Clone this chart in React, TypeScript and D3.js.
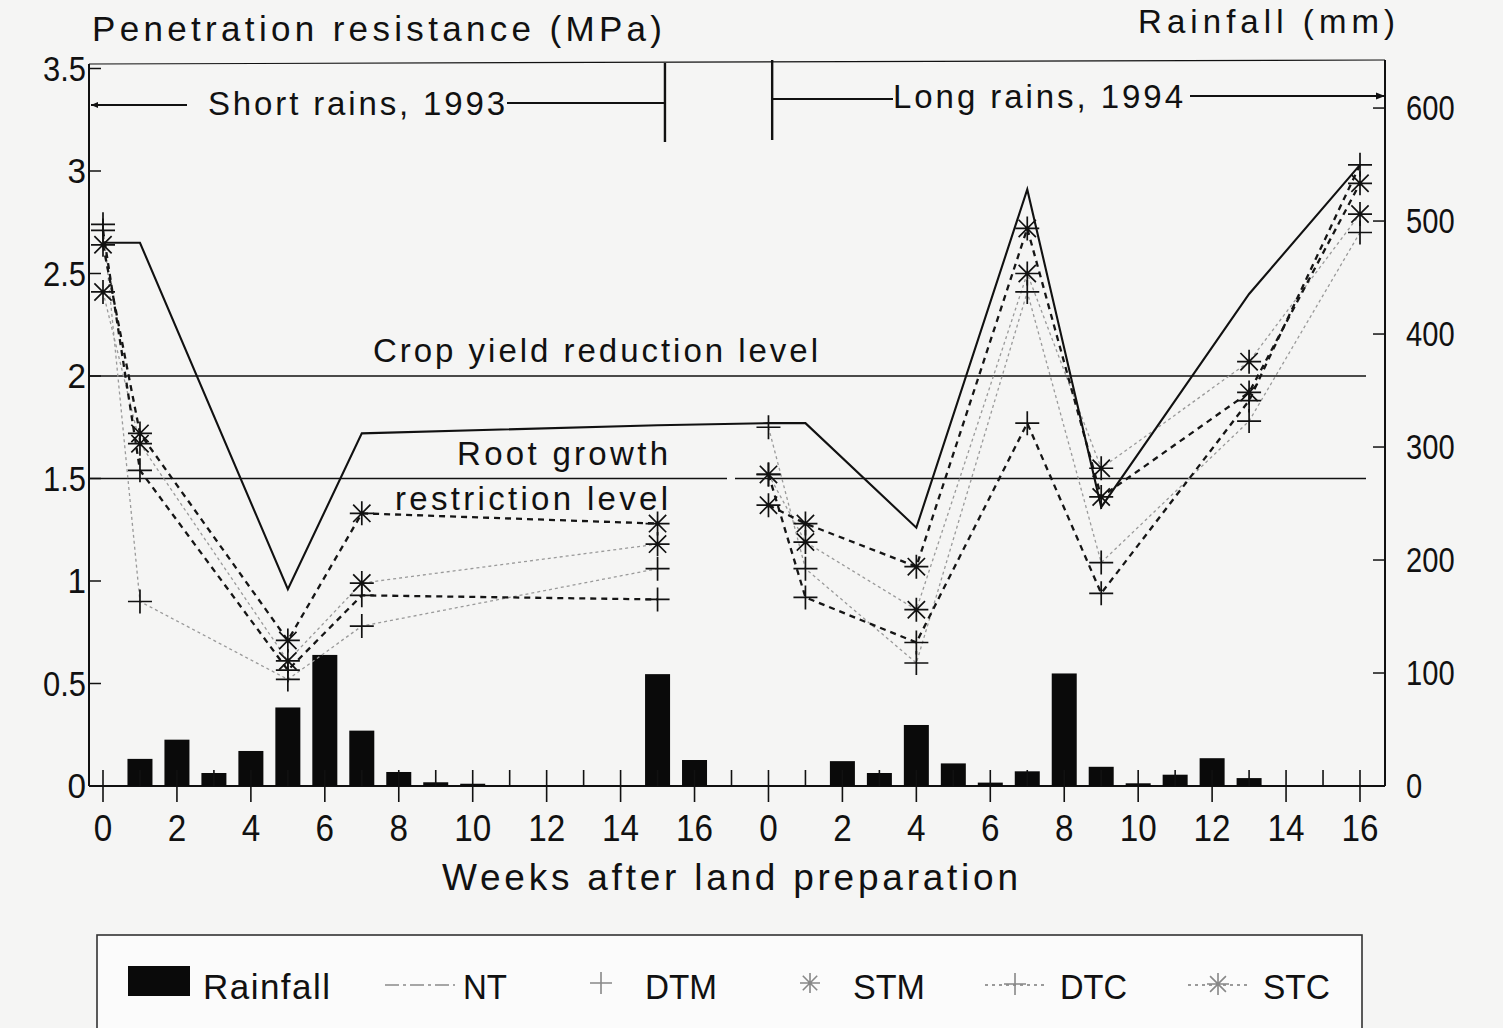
import React from 'react';
import * as d3 from 'd3';

const WIDTH = 1503;
const HEIGHT = 1028;

// Sampling weeks (weeks after land preparation) for each season
const shortWeeks = [0, 1, 5, 7, 15];
const longWeeks = [0, 1, 4, 7, 9, 13, 16];
// Axis position where the long-rains week numbering restarts at 0
const LONG_START = 18;
const LAST_SHORT_WEEK = 17;
const LAST_LONG_WEEK = 16;

// Penetration resistance (MPa), short rains 1993 / long rains 1994
const ntShort = [2.65, 2.65, 0.96, 1.72, 1.76];
const ntLong = [1.77, 1.77, 1.26, 2.91, 1.36, 2.4, 3.03];
const dtmShort = [2.74, 0.9, 0.52, 0.78, 1.06];
const dtmLong = [1.75, 1.06, 0.6, 2.41, 1.09, 1.78, 2.7];
const stmShort = [2.41, 1.67, 0.61, 0.99, 1.18];
const stmLong = [1.52, 1.19, 0.86, 2.5, 1.55, 2.07, 2.79];
const dtcShort = [2.71, 1.54, 0.565, 0.93, 0.91];
const dtcLong = [1.52, 0.92, 0.7, 1.77, 0.94, 1.88, 3.03];
const stcShort = [2.64, 1.72, 0.71, 1.33, 1.28];
const stcLong = [1.37, 1.28, 1.07, 2.72, 1.41, 1.92, 2.94];

// Weekly rainfall (mm): short rains weeks 0-17, long rains weeks 0-16
const rainShort = [0, 24, 41, 11.5, 31, 69.5, 116, 49, 12.4, 3.3, 2, 0, 0, 0, 0, 99, 23, 0];
const rainLong = [0, 0, 22, 11.5, 54, 20, 3, 13, 99.6, 17, 2.4, 10, 24.6, 7, 0, 0, 0];

// Reference levels (MPa)
const cropYieldLevel = 2;
const rootRestrictionLevel = 1.5;

// Axis ticks
const leftTicks = [0, 0.5, 1, 1.5, 2, 2.5, 3, 3.5];
const rightTicks = [0, 100, 200, 300, 400, 500, 600];
const weekLabels = [0, 2, 4, 6, 8, 10, 12, 14, 16];

const FONT = "'Liberation Sans', Arial, Helvetica, sans-serif";

const x = d3.scaleLinear().domain([0, 34]).range([103, 1360]);
const yL = d3.scaleLinear().domain([0, 3.5]).range([786, 68.5]);
const yR = d3.scaleLinear().domain([0, 635]).range([786, 68.5]);

const AXIS_LEFT = 89;
const AXIS_RIGHT = 1385;
const AXIS_BOTTOM = yL(0);
const FRAME_TOP = 64;

const plusPath = (s: number) => `M${-s},0H${s}M0,${-s}V${s}`;
const starPath = (s: number) => {
  const d = s * 0.72;
  return `M${-s},0H${s}M0,${-s}V${s}M${-d},${-d}L${d},${d}M${-d},${d}L${d},${-d}`;
};

type Treatment = {
  name: string;
  short: number[];
  long: number[];
  marker: 'plus' | 'star';
  heavy: boolean;
};

const treatments: Treatment[] = [
  { name: 'DTM', short: dtmShort, long: dtmLong, marker: 'plus', heavy: false },
  { name: 'STM', short: stmShort, long: stmLong, marker: 'star', heavy: false },
  { name: 'DTC', short: dtcShort, long: dtcLong, marker: 'plus', heavy: true },
  { name: 'STC', short: stcShort, long: stcLong, marker: 'star', heavy: true },
];

const lightStroke = { stroke: '#9a9a9a', strokeWidth: 1.3, strokeDasharray: '3,3' };
const heavyStroke = { stroke: '#151515', strokeWidth: 2.3, strokeDasharray: '6,5' };

const line = d3
  .line<[number, number]>()
  .x((d) => x(d[0]))
  .y((d) => yL(d[1]));

// width of a number label, narrow plotting digits
const numWidth = (s: string, digit = 18.5) =>
  s.split('').reduce((w, ch) => w + (ch === '.' ? 6 : digit), 0);

function Label(props: {
  x: number;
  y: number;
  text: string;
  size: number;
  width?: number;
  anchor?: 'start' | 'middle' | 'end';
  squeeze?: boolean;
}) {
  const { text, size, width, anchor = 'start', squeeze } = props;
  return (
    <text
      x={props.x}
      y={props.y}
      fontSize={size}
      fontFamily={FONT}
      fill="#111"
      textAnchor={anchor}
      textLength={width}
      lengthAdjust={width ? (squeeze ? 'spacingAndGlyphs' : 'spacing') : undefined}
    >
      {text}
    </text>
  );
}

export default function App() {
  const seasonPoints = (weeks: number[], vals: number[], offset: number) =>
    weeks.map((w, i) => [w + offset, vals[i]] as [number, number]);

  const ntPoints = [
    ...seasonPoints(shortWeeks, ntShort, 0),
    ...seasonPoints(longWeeks, ntLong, LONG_START),
  ];

  const rainBars = [
    ...rainShort.map((v, i) => ({ pos: i, v })),
    ...rainLong.map((v, i) => ({ pos: LONG_START + i, v })),
  ].filter((d) => d.v > 0);

  const tickPositions: number[] = [];
  for (let w = 0; w <= LAST_SHORT_WEEK; w++) tickPositions.push(w);
  for (let w = 0; w <= LAST_LONG_WEEK; w++) tickPositions.push(LONG_START + w);

  const barW = 25;

  return (
    <svg
      width={WIDTH}
      height={HEIGHT}
      viewBox={`0 0 ${WIDTH} ${HEIGHT}`}
      style={{ position: 'absolute', left: 0, top: 0, background: '#f5f5f4' }}
    >
      {/* titles */}
      <Label x={92} y={41} text="Penetration resistance (MPa)" size={35} width={570} />
      <Label x={1138} y={33} text="Rainfall (mm)" size={33} width={257} />

      {/* frame */}
      <g stroke="#111" strokeWidth={2} fill="none">
        <line x1={AXIS_LEFT} y1={FRAME_TOP} x2={AXIS_LEFT} y2={AXIS_BOTTOM} />
        <line x1={AXIS_RIGHT} y1={FRAME_TOP - 4} x2={AXIS_RIGHT} y2={AXIS_BOTTOM} />
        <line x1={AXIS_LEFT} y1={AXIS_BOTTOM} x2={AXIS_RIGHT} y2={AXIS_BOTTOM} />
        <line x1={AXIS_LEFT} y1={FRAME_TOP} x2={AXIS_RIGHT} y2={FRAME_TOP - 4} strokeWidth={1.2} />
      </g>

      {/* left axis ticks and labels */}
      {leftTicks.map((t) => (
        <g key={`l${t}`}>
          <line x1={AXIS_LEFT} x2={AXIS_LEFT + 12} y1={yL(t)} y2={yL(t)} stroke="#111" strokeWidth={1.5} />
          <Label
            x={86}
            y={yL(t) + 12}
            text={String(t)}
            size={35}
            anchor="end"
            width={numWidth(String(t))}
            squeeze
          />
        </g>
      ))}

      {/* right axis ticks and labels */}
      {rightTicks.map((t) => (
        <g key={`r${t}`}>
          <line x1={AXIS_RIGHT - 12} x2={AXIS_RIGHT} y1={yR(t)} y2={yR(t)} stroke="#111" strokeWidth={1.5} />
          <Label
            x={1406}
            y={yR(t) + 12}
            text={String(t)}
            size={35}
            width={numWidth(String(t), 16.2)}
            squeeze
          />
        </g>
      ))}

      {/* season annotations */}
      <g stroke="#111" strokeWidth={1.8} fill="#111">
        <line x1={x(15.2)} x2={x(15.2)} y1={FRAME_TOP - 1} y2={142} strokeWidth={2.4} />
        <line x1={x(18.1)} x2={x(18.1)} y1={FRAME_TOP - 4} y2={140} strokeWidth={2.4} />
        <line x1={AXIS_LEFT + 2} x2={187} y1={105} y2={105} />
        <path d={`M${AXIS_LEFT + 2},105l7,-3v6z`} stroke="none" />
        <line x1={507} x2={x(15.2)} y1={103} y2={103} />
        <line x1={x(18.1)} x2={893} y1={99} y2={99} />
        <line x1={1190} x2={AXIS_RIGHT} y1={96} y2={96} />
        <path d={`M${AXIS_RIGHT},96l-9,-3.5v7z`} stroke="none" />
      </g>
      <Label x={208} y={115} text="Short rains, 1993" size={33} width={297} />
      <Label x={893} y={108} text="Long rains, 1994" size={33} width={290} />

      {/* reference levels */}
      <g stroke="#111" strokeWidth={1.6}>
        <line x1={AXIS_LEFT} x2={1366} y1={yL(cropYieldLevel)} y2={yL(cropYieldLevel)} />
        <line x1={AXIS_LEFT} x2={727} y1={yL(rootRestrictionLevel)} y2={yL(rootRestrictionLevel)} />
        <line x1={735} x2={1366} y1={yL(rootRestrictionLevel)} y2={yL(rootRestrictionLevel)} />
      </g>
      <Label x={373} y={362} text="Crop yield reduction level" size={33} width={445} />
      <Label x={457} y={465} text="Root growth" size={33} width={211} />
      <Label x={395} y={510} text="restriction level" size={33} width={273} />

      {/* rainfall bars */}
      {rainBars.map((d) => (
        <rect
          key={`b${d.pos}`}
          x={x(d.pos) - barW / 2}
          y={yR(d.v)}
          width={barW}
          height={yR(0) - yR(d.v)}
          fill="#0a0a0a"
        />
      ))}

      {/* week ticks */}
      {tickPositions.map((p) => (
        <line
          key={`t${p}`}
          x1={x(p)}
          x2={x(p)}
          y1={AXIS_BOTTOM - 16}
          y2={p % 2 === 0 ? AXIS_BOTTOM + 16 : AXIS_BOTTOM}
          stroke="#111"
          strokeWidth={1.6}
        />
      ))}
      {[0, LONG_START].map((off) =>
        weekLabels.map((w) => (
          <Label
            key={`w${off}-${w}`}
            x={x(off + w)}
            y={841}
            text={String(w)}
            size={36}
            anchor="middle"
            width={numWidth(String(w))}
            squeeze
          />
        ))
      )}
      <Label x={442} y={890} text="Weeks after land preparation" size={37} width={576} />

      {/* treatment lines */}
      {treatments.map((t) =>
        [
          seasonPoints(shortWeeks, t.short, 0),
          seasonPoints(longWeeks, t.long, LONG_START),
        ].map((pts, k) => (
          <path
            key={`${t.name}${k}`}
            d={line(pts) || ''}
            fill="none"
            {...(t.heavy ? heavyStroke : lightStroke)}
          />
        ))
      )}
      <path d={line(ntPoints) || ''} fill="none" stroke="#111" strokeWidth={2.1} />

      {/* treatment markers */}
      {treatments.map((t) =>
        [
          ...seasonPoints(shortWeeks, t.short, 0),
          ...seasonPoints(longWeeks, t.long, LONG_START),
        ].map((p, i) => (
          <path
            key={`${t.name}m${i}`}
            transform={`translate(${x(p[0])},${yL(p[1])})`}
            d={t.marker === 'plus' ? plusPath(12) : starPath(12)}
            stroke="#111"
            strokeWidth={1.7}
            fill="none"
          />
        ))
      )}

      {/* legend */}
      <rect x={97} y={935} width={1265} height={100} fill="#fbfbfb" stroke="#333" strokeWidth={1.6} />
      <rect x={128} y={966} width={62} height={30} fill="#0a0a0a" />
      <Label x={203} y={999} text="Rainfall" size={35} width={127} />
      <line x1={385} x2={455} y1={985} y2={985} stroke="#8a8a8a" strokeWidth={1.5} strokeDasharray="14,4,3,4" />
      <Label x={463} y={999} text="NT" size={35} width={44} squeeze />
      <path transform="translate(601,983)" d={plusPath(11)} stroke="#888" strokeWidth={1.6} fill="none" />
      <Label x={645} y={999} text="DTM" size={35} width={72} squeeze />
      <path transform="translate(810,983)" d={starPath(10)} stroke="#888" strokeWidth={1.6} fill="none" />
      <Label x={853} y={999} text="STM" size={35} width={72} squeeze />
      <line x1={985} x2={1045} y1={985} y2={985} stroke="#9a9a9a" strokeWidth={1.8} strokeDasharray="3,4" />
      <path transform="translate(1015,984)" d={plusPath(11)} stroke="#888" strokeWidth={1.6} fill="none" />
      <Label x={1060} y={999} text="DTC" size={35} width={67} squeeze />
      <line x1={1188} x2={1250} y1={985} y2={985} stroke="#9a9a9a" strokeWidth={1.8} strokeDasharray="3,4" />
      <path transform="translate(1218,984)" d={starPath(11)} stroke="#888" strokeWidth={1.6} fill="none" />
      <Label x={1263} y={999} text="STC" size={35} width={67} squeeze />
    </svg>
  );
}
